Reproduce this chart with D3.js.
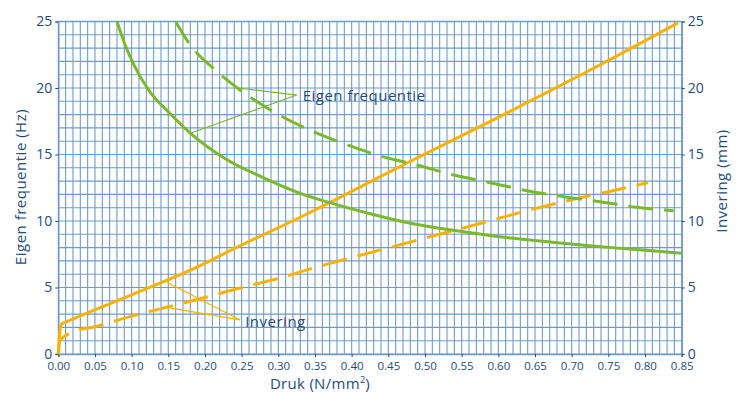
<!DOCTYPE html>
<html>
<head>
<meta charset="utf-8">
<script src="https://cdn.jsdelivr.net/npm/d3@7"></script>
<style>
  body { margin: 0; background: #fff; }
  text { font-family: "Open Sans", "Noto Sans", sans-serif; fill: #1d4e78; }
</style>
</head>
<body>
<div class="chart"></div>
<script>
// ticks
var xTicks = [0, 0.05, 0.10, 0.15, 0.20, 0.25, 0.30, 0.35, 0.40, 0.45, 0.50, 0.55, 0.60, 0.65, 0.70, 0.75, 0.80, 0.85];
var yTicks = [0, 5, 10, 15, 20, 25];

// Eigen frequentie (Hz) - solid + dashed
var freqSolidP = [0.080, 0.090, 0.102, 0.125, 0.152, 0.180, 0.230, 0.280, 0.330, 0.370, 0.420, 0.480, 0.543, 0.602, 0.670, 0.739, 0.784, 0.850];
var freqSolidV = [25.0, 23.4, 21.85, 19.7, 18.1, 16.6, 14.6, 13.25, 12.08, 11.38, 10.62, 9.83, 9.27, 8.82, 8.42, 8.07, 7.87, 7.57];
var freqDashP = [0.160, 0.179, 0.215, 0.254, 0.297, 0.343, 0.391, 0.439, 0.489, 0.539, 0.589, 0.639, 0.689, 0.739, 0.789, 0.839];
var freqDashV = [25.0, 23.3, 21.3, 19.6, 18.1, 16.84, 15.79, 14.89, 14.21, 13.46, 12.88, 12.28, 11.83, 11.45, 11.03, 10.77];

// Invering (mm) - solid + dashed
var invSolidP = [0, 0.0023, 0.0046, 0.0114, 0.10, 0.18, 0.25, 0.33, 0.37, 0.47, 0.62, 0.72, 0.845];
var invSolidV = [0, 1.8, 2.26, 2.43, 4.45, 6.3, 8.2, 10.28, 11.38, 14.21, 18.35, 21.2, 24.9];
var invDashP = [0, 0.002, 0.009, 0.018, 0.05, 0.10, 0.15, 0.20, 0.25, 0.30, 0.35, 0.40, 0.45, 0.50, 0.55, 0.60, 0.65, 0.70, 0.75, 0.804];
var invDashV = [0, 1.0, 1.35, 1.63, 2.05, 2.85, 3.55, 4.25, 5.0, 5.68, 6.5, 7.25, 7.98, 8.72, 9.44, 10.2, 10.93, 11.6, 12.2, 12.88];

var green = "#7bb82a";
var orange = "#fab100";
var gridColor = "#6f9bc8";

var svgWidth = 743, svgHeight = 394;
var margin = { top: 21.5, left: 58.3, right: 61.3, bottom: 40 };
var width = svgWidth - margin.left - margin.right;
var height = 354 - margin.top;

var svg = d3.select(".chart").append("svg")
  .attr("width", svgWidth)
  .attr("height", svgHeight);

var chartGroup = svg.append("g")
  .attr("transform", `translate(${margin.left}, ${margin.top})`);

var xScale = d3.scaleLinear().domain([0, 0.85]).range([0, width]);
var yScale = d3.scaleLinear().domain([0, 25]).range([height, 0]);

// grid
chartGroup.append("g").selectAll("line")
  .data(xScale.ticks(85))
  .enter().append("line")
  .attr("x1", d => xScale(d)).attr("x2", d => xScale(d))
  .attr("y1", 0).attr("y2", height)
  .attr("stroke", gridColor).attr("stroke-width", 1.1);

chartGroup.append("g").selectAll("line")
  .data(yScale.ticks(25))
  .enter().append("line")
  .attr("y1", d => yScale(d)).attr("y2", d => yScale(d))
  .attr("x1", 0).attr("x2", width)
  .attr("stroke", gridColor).attr("stroke-width", 1.1);

// axes
var xAxis = d3.axisBottom(xScale).tickValues(xTicks).tickFormat(d3.format(".2f")).tickSize(3).tickPadding(5);
var yAxisL = d3.axisLeft(yScale).tickValues(yTicks).tickSize(3).tickPadding(3);
var yAxisR = d3.axisRight(yScale).tickValues(yTicks).tickSize(3).tickPadding(3);

function styleAxis(g) {
  g.select(".domain").attr("stroke", gridColor).attr("stroke-width", 1.5);
  g.selectAll(".tick line").attr("stroke", "#1d4e78");
  g.selectAll(".tick text").attr("fill", "#1d4e78");
}

chartGroup.append("g")
  .attr("transform", `translate(0, ${height})`)
  .call(xAxis)
  .call(g => g.selectAll(".tick text").style("font-size", "11.5px").style("font-family", "'Open Sans'"))
  .call(styleAxis);

chartGroup.append("g")
  .call(yAxisL)
  .call(g => g.selectAll(".tick text").style("font-size", "14px").style("font-family", "'Open Sans'"))
  .call(styleAxis);

chartGroup.append("g")
  .attr("transform", `translate(${width}, 0)`)
  .call(yAxisR)
  .call(g => g.selectAll(".tick text").style("font-size", "14px").style("font-family", "'Open Sans'"))
  .call(styleAxis);

chartGroup.append("line")
  .attr("x1", 0).attr("x2", width).attr("y1", 0).attr("y2", 0)
  .attr("stroke", gridColor).attr("stroke-width", 1.5);

// series
var line = d3.line()
  .x(d => xScale(d[0]))
  .y(d => yScale(d[1]))
  .curve(d3.curveMonotoneX);

function zip(a, b) { return a.map((v, i) => [v, b[i]]); }

var series = [
  { pts: zip(invDashP, invDashV), color: orange, dash: "25,11" },
  { pts: zip(invSolidP, invSolidV), color: orange, dash: null },
  { pts: zip(freqDashP, freqDashV), color: green, dash: "25,11" },
  { pts: zip(freqSolidP, freqSolidV), color: green, dash: null }
];

series.forEach(function(s) {
  chartGroup.append("path")
    .attr("d", line(s.pts))
    .attr("fill", "none")
    .attr("stroke", s.color)
    .attr("stroke-width", 3)
    .attr("stroke-dasharray", s.dash);
});

// annotations (leader lines)
var annFreq = [0.325, 19.47];
var annInv = [0.248, 2.56];

[[0.248, 19.98], [0.180, 16.6]].forEach(function(p) {
  chartGroup.append("line")
    .attr("x1", xScale(annFreq[0])).attr("y1", yScale(annFreq[1]))
    .attr("x2", xScale(p[0])).attr("y2", yScale(p[1]))
    .attr("stroke", green).attr("stroke-width", 1.2);
});
[[0.148, 5.39], [0.148, 3.51]].forEach(function(p) {
  chartGroup.append("line")
    .attr("x1", xScale(annInv[0])).attr("y1", yScale(annInv[1]))
    .attr("x2", xScale(p[0])).attr("y2", yScale(p[1]))
    .attr("stroke", orange).attr("stroke-width", 1.2);
});

chartGroup.append("text")
  .attr("x", xScale(annFreq[0]) + 6)
  .attr("y", yScale(annFreq[1]) + 6)
  .style("font-size", "15px")
  .style("letter-spacing", "0.5px")
  .text("Eigen frequentie");

chartGroup.append("text")
  .attr("x", xScale(annInv[0]) + 5)
  .attr("y", yScale(annInv[1]) + 7)
  .style("font-size", "15px")
  .style("letter-spacing", "0.5px")
  .text("Invering");

// axis titles
svg.append("text")
  .attr("transform", "translate(26, 187) rotate(-90)")
  .attr("text-anchor", "middle")
  .style("font-size", "15px")
  .style("letter-spacing", "0.5px")
  .text("Eigen frequentie (Hz)");

svg.append("text")
  .attr("transform", "translate(727, 181) rotate(-90)")
  .attr("text-anchor", "middle")
  .style("font-size", "15px")
  .style("letter-spacing", "0.5px")
  .text("Invering (mm)");

svg.append("text")
  .attr("x", 320)
  .attr("y", 389)
  .attr("text-anchor", "middle")
  .style("font-size", "15px")
  .style("letter-spacing", "0.3px")
  .html("Druk (N/mm<tspan baseline-shift='super' font-size='9px'>2</tspan>)");
</script>
</body>
</html>
